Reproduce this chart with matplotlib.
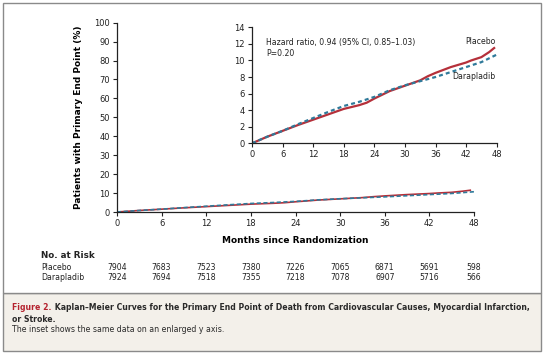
import matplotlib
matplotlib.use("Agg")
import matplotlib.pyplot as plt
from matplotlib.patches import Rectangle
import matplotlib.transforms as mtransforms

# ---- data ----
placebo_months = [0, 3, 6, 9, 12, 15, 18, 21, 22.5, 24, 27, 30, 33, 34.5, 36, 39, 42, 43, 45, 46.5, 47.5]
placebo_pct = [0, 0.8, 1.5, 2.2, 2.85, 3.5, 4.15, 4.6, 4.9, 5.4, 6.3, 6.95, 7.6, 8.1, 8.5, 9.2, 9.75, 10.0, 10.4, 11.0, 11.5]
dara_months = [0, 3, 6, 9, 12, 15, 18, 21, 24, 27, 30, 33, 36, 39, 42, 45, 48]
dara_pct = [0, 0.8, 1.5, 2.3, 3.05, 3.8, 4.5, 5.0, 5.6, 6.4, 7.0, 7.5, 8.0, 8.6, 9.2, 9.8, 10.7]
risk_months = [0, 6, 12, 18, 24, 30, 36, 42, 48]
risk_placebo = [7904, 7683, 7523, 7380, 7226, 7065, 6871, 5691, 598]
risk_dara = [7924, 7694, 7518, 7355, 7218, 7078, 6907, 5716, 566]
main_yticks = list(range(0, 101, 10))
inset_yticks = list(range(0, 15, 2))
xticks = list(range(0, 49, 6))

RED = "#b5303a"
BLUE = "#2f7a9a"
W, H = 546, 355

fig = plt.figure(figsize=(5.46, 3.55), dpi=100)
fig.patch.set_facecolor("white")

def fx(px): return px / W
def fy(py): return 1 - py / H

# frames
fig.add_artist(Rectangle((fx(3), fy(351)), fx(541) - fx(3), fy(293) - fy(351),
                         transform=fig.transFigure, facecolor="#f3f0ea", edgecolor="#8a8a8a", lw=1.0, zorder=-10))
fig.add_artist(Rectangle((fx(3), fy(293)), fx(541) - fx(3), fy(3) - fy(293),
                         transform=fig.transFigure, facecolor="white", edgecolor="#8a8a8a", lw=1.0, zorder=-10))

def style(ax):
    for s in ["top", "right"]:
        ax.spines[s].set_visible(False)
    for s in ["left", "bottom"]:
        ax.spines[s].set_color("#222222")
        ax.spines[s].set_linewidth(0.9)
    ax.tick_params(direction="out", length=3, width=0.8, labelsize=6, pad=2, colors="#222222")
    ax.set_facecolor("none")

# main axes
ax = fig.add_axes([fx(117), fy(212), fx(474) - fx(117), fy(22.7) - fy(212)])
style(ax)
ax.plot(placebo_months, placebo_pct, color=RED, lw=1.2, solid_joinstyle="round")
ax.plot(dara_months, dara_pct, color=BLUE, lw=1.2, ls=(0, (2.5, 1.5)))
ax.set_xlim(0, 48)
ax.set_ylim(0, 100)
ax.set_xticks(xticks)
ax.set_yticks(main_yticks)
ax.set_xlabel("Months since Randomization", fontsize=6.5, fontweight="bold", labelpad=6)
ax.set_ylabel("Patients with Primary End Point (%)", fontsize=6.5, fontweight="bold", labelpad=8)

# inset axes
ia = fig.add_axes([fx(252), fy(143.3), fx(496.7) - fx(252), fy(27.3) - fy(143.3)])
style(ia)
ia.plot(placebo_months, placebo_pct, color=RED, lw=1.6, solid_joinstyle="round")
ia.plot(dara_months, dara_pct, color=BLUE, lw=1.6, ls=(0, (1.8, 1.4)))
ia.set_xlim(0, 48)
ia.set_ylim(0, 14)
ia.set_xticks(xticks)
ia.set_yticks(inset_yticks)
ia.text(fx(266), fy(42.7), "Hazard ratio, 0.94 (95% CI, 0.85\u20131.03)", transform=fig.transFigure,
        fontsize=5.6, va="center", ha="left", color="#222222")
ia.text(fx(266), fy(53), "P=0.20", transform=fig.transFigure,
        fontsize=5.6, va="center", ha="left", color="#222222")
ia.text(fx(495), fy(42), "Placebo", transform=fig.transFigure,
        fontsize=5.6, va="center", ha="right", color="#222222")
ia.text(fx(495), fy(76.7), "Darapladib", transform=fig.transFigure,
        fontsize=5.6, va="center", ha="right", color="#222222")

# number at risk
fig.text(fx(41), fy(256), "No. at Risk", fontsize=6.3, fontweight="bold", va="center", ha="left", color="#222222")
fig.text(fx(41), fy(267), "Placebo", fontsize=5.6, va="center", ha="left", color="#222222")
fig.text(fx(41), fy(278), "Darapladib", fontsize=5.6, va="center", ha="left", color="#222222")
trans = mtransforms.blended_transform_factory(ax.transData, fig.transFigure)
for m, p, d in zip(risk_months, risk_placebo, risk_dara):
    fig.text(m, fy(267), str(p), transform=trans, fontsize=5.6, va="center", ha="center", color="#222222")
    fig.text(m, fy(278), str(d), transform=trans, fontsize=5.6, va="center", ha="center", color="#222222")

# caption
CAP = 5.6
t1 = fig.text(fx(12), fy(307), "Figure 2.", fontsize=CAP, fontweight="bold", color="#b5232f", va="center", ha="left")
plt.annotate(" Kaplan\u2013Meier Curves for the Primary End Point of Death from Cardiovascular Causes, Myocardial Infarction,",
             xy=(1, 0.5), xycoords=t1, va="center", ha="left",
             fontsize=CAP, fontweight="bold", color="#2a2a2a", annotation_clip=False)
fig.text(fx(12), fy(319), "or Stroke.", fontsize=CAP, fontweight="bold", color="#2a2a2a", va="center", ha="left")
fig.text(fx(12), fy(330), "The inset shows the same data on an enlarged y axis.", fontsize=5.6, color="#2a2a2a", va="center", ha="left")

fig.savefig("out.png", dpi=100)
